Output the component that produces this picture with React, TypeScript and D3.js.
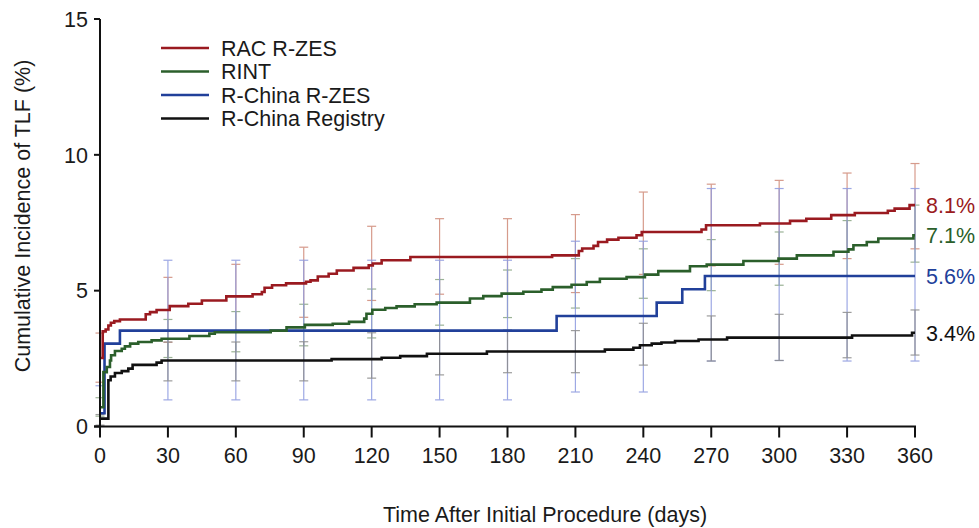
import React from "react";
import * as d3 from "d3";

// ---- data ----
const seriesNames = ["RAC R-ZES", "RINT", "R-China R-ZES", "R-China Registry"];
const endLabels = ["8.1%", "7.1%", "5.6%", "3.4%"];
const xTicks = [0, 30, 60, 90, 120, 150, 180, 210, 240, 270, 300, 330, 360];
const yTicks = [0, 5, 10, 15];

const racRzes: [number, number][] = [
  [0, 2.52], [1.2, 3.5], [2.5, 3.57], [3.7, 3.72], [4.8, 3.82], [6.3, 3.88], [8.8, 3.94],
  [20.2, 4.13], [22.1, 4.21], [25, 4.29], [30.8, 4.43], [39, 4.52], [45, 4.64], [55.8, 4.79],
  [67.4, 4.87], [71.5, 4.95], [72.7, 5.11], [76, 5.2], [82.2, 5.27], [91, 5.33], [93, 5.38],
  [96.2, 5.52], [101, 5.62], [104.6, 5.74], [112, 5.84], [118.7, 5.93], [120.5, 6.0],
  [124.4, 6.12], [137.1, 6.24], [199.7, 6.3], [211.5, 6.46], [213, 6.55], [218, 6.65],
  [220, 6.79], [224, 6.88], [229, 6.95], [237, 7.04], [239.3, 7.16], [265.7, 7.25],
  [267.7, 7.41], [291.5, 7.47], [304.8, 7.57], [312, 7.65], [323, 7.78], [333.4, 7.86],
  [348, 7.94], [351, 8.02], [357.6, 8.15], [360, 8.15],
];
const rint: [number, number][] = [
  [0, 0.71], [1.5, 2.0], [3.0, 2.19], [4.4, 2.43], [4.9, 2.62], [6.6, 2.78], [9.6, 2.86],
  [11, 2.95], [13.3, 3.05], [16.9, 3.11], [22.8, 3.17], [27.2, 3.23], [39.5, 3.33],
  [48.3, 3.42], [50.7, 3.47], [75.4, 3.53], [82.4, 3.65], [90.5, 3.74], [102.8, 3.78],
  [110, 3.85], [116.7, 3.97], [117.7, 4.15], [120.3, 4.3], [126, 4.36], [131, 4.42],
  [139, 4.5], [148.7, 4.56], [163.4, 4.71], [169.3, 4.8], [177.4, 4.89], [187, 4.96],
  [195, 5.04], [200, 5.13], [208.3, 5.22], [215, 5.32], [220.8, 5.44], [232.6, 5.5],
  [240.7, 5.59], [246.6, 5.72], [260.6, 5.9], [268, 5.96], [284.2, 6.09], [299.7, 6.18],
  [307.8, 6.3], [324, 6.43], [330.6, 6.52], [332.8, 6.67], [338.7, 6.79], [343.8, 6.92],
  [359.3, 7.04], [360, 7.04],
];
const chinaRzes: [number, number][] = [
  [0, 0.49], [2.0, 3.05], [8.8, 3.53], [201.7, 4.07], [245.9, 4.56], [257.2, 5.05],
  [267.2, 5.54], [360, 5.54],
];
const chinaRegistry: [number, number][] = [
  [0, 0.29], [3.7, 1.7], [4.7, 1.84], [6.6, 1.97], [9.6, 2.04], [12.5, 2.13], [14.4, 2.27],
  [25, 2.35], [27.2, 2.43], [102.3, 2.48], [124.4, 2.53], [132.6, 2.59], [144.4, 2.68],
  [170.9, 2.76], [223, 2.83], [235.6, 2.9], [238.5, 2.99], [243.7, 3.05], [248, 3.09],
  [254, 3.15], [264.4, 3.2], [277, 3.27], [332.2, 3.35], [358.7, 3.45], [360, 3.45],
];

// confidence intervals
const ciDays = [0, 30, 60, 90, 120, 150, 180, 210, 240, 270, 300, 330, 360];
const racLo = [1.63, 3.1, 3.53, 4.02, 4.64, 4.87, 4.87, 4.93, 5.6, 5.91, 5.97, 6.18, 6.54];
const racHi = [3.44, 5.49, 5.97, 6.6, 7.37, 7.65, 7.65, 7.8, 8.63, 8.92, 9.06, 9.33, 9.68];
const rintLo = [0.38, 2.54, 2.75, 2.97, 3.26, 3.73, 4.01, 4.36, 4.72, 5.0, 5.2, 5.55, 6.05];
const rintHi = [1.06, 3.94, 4.23, 4.5, 5.06, 5.41, 5.76, 6.18, 6.54, 6.88, 7.16, 7.58, 8.15];
const chinaLo = [0.0, 0.98, 0.98, 0.98, 0.98, 0.98, 0.98, 1.27, 1.27, 2.41, 2.43, 2.41, 2.41];
const chinaHi = [1.5, 6.12, 6.12, 6.12, 6.12, 6.12, 6.12, 6.82, 6.82, 8.76, 8.76, 8.76, 8.76];
const regLo = [0.05, 1.68, 1.68, 1.68, 1.78, 1.9, 1.98, 1.98, 2.26, 2.41, 2.43, 2.53, 2.63];
const regHi = [0.44, 3.11, 3.11, 3.12, 3.45, 3.5, 3.55, 3.53, 3.8, 4.07, 4.13, 4.2, 4.29];

const lineColors = ["#9a1a20", "#2b5f2b", "#21409a", "#111111"];
const ciColors = ["#d08a78", "#8aa684", "#8d9ae0", "#8c8c8c"];

const FONT = "'Liberation Sans', Arial, Helvetica, sans-serif";

export default function App() {
  const W = 979;
  const H = 528;
  const x = d3.scaleLinear().domain([0, 360]).range([100, 915]);
  const y = d3.scaleLinear().domain([0, 15]).range([426.5, 19]);

  const series = [racRzes, rint, chinaRzes, chinaRegistry];
  const los = [racLo, rintLo, chinaLo, regLo];
  const his = [racHi, rintHi, chinaHi, regHi];

  const line = d3
    .line<[number, number]>()
    .x((d) => x(d[0]))
    .y((d) => y(d[1]))
    .curve(d3.curveStepAfter);

  const fs = 21.5;
  const capW = 4.5;
  const drawOrder = [3, 2, 1, 0];

  return (
    <div style={{ position: "fixed", left: 0, top: 0 }}>
      <svg width={W} height={H} style={{ display: "block", background: "#fff" }}>
        {/* error bars */}
        {[0, 1, 2, 3].map((si) => (
          <g key={"ci" + si} stroke={ciColors[si]} strokeWidth={1.2} opacity={0.85} fill="none">
            {ciDays.map((d, i) => {
              const cx = x(d);
              const y1 = y(los[si][i]);
              const y2 = y(his[si][i]);
              return (
                <g key={i}>
                  <line x1={cx} x2={cx} y1={y1} y2={y2} />
                  <line x1={cx - capW} x2={cx + capW} y1={y1} y2={y1} />
                  <line x1={cx - capW} x2={cx + capW} y1={y2} y2={y2} />
                </g>
              );
            })}
          </g>
        ))}

        {/* curves */}
        {drawOrder.map((si) => (
          <path
            key={"s" + si}
            d={line(series[si]) || ""}
            fill="none"
            stroke={lineColors[si]}
            strokeWidth={2.6}
            strokeLinejoin="miter"
          />
        ))}

        {/* axes */}
        <g stroke="#111" strokeWidth={2}>
          <line x1={x(0)} x2={x(0)} y1={y(15)} y2={y(0) + 1} />
          <line x1={x(0) - 6} x2={x(360) + 1} y1={y(0)} y2={y(0)} />
          {yTicks.map((t) => (
            <line key={"yt" + t} x1={x(0) - 6} x2={x(0)} y1={y(t)} y2={y(t)} />
          ))}
          {xTicks.map((t) => (
            <line key={"xt" + t} x1={x(t)} x2={x(t)} y1={y(0)} y2={y(0) + 11} />
          ))}
        </g>
        <g fontFamily={FONT} fontSize={fs} fill="#1a1a1a">
          {yTicks.map((t) => (
            <text key={"yl" + t} x={x(0) - 12} y={y(t)} dy="0.36em" textAnchor="end">
              {t}
            </text>
          ))}
          {xTicks.map((t) => (
            <text key={"xl" + t} x={x(t)} y={463} textAnchor="middle">
              {t}
            </text>
          ))}
          <text x={545} y={522} textAnchor="middle">
            Time After Initial Procedure (days)
          </text>
          <text transform={`translate(30,216) rotate(-90)`} textAnchor="middle">
            Cumulative Incidence of TLF (%)
          </text>
        </g>

        {/* legend */}
        <g fontFamily={FONT} fontSize={fs}>
          {seriesNames.map((n, i) => (
            <g key={n} transform={`translate(161,${48 + i * 23.5})`}>
              <line x1={0} x2={48} y1={0} y2={0} stroke={lineColors[i]} strokeWidth={2.6} />
              <text x={60} y={0} dy="0.36em" fill="#1a1a1a">
                {n}
              </text>
            </g>
          ))}
        </g>

        {/* end labels */}
        <g fontFamily={FONT} fontSize={fs}>
          {series.map((s, i) => (
            <text key={"el" + i} x={926} y={y(s[s.length - 1][1])} dy="0.36em" fill={lineColors[i]}>
              {endLabels[i]}
            </text>
          ))}
        </g>
      </svg>
    </div>
  );
}
